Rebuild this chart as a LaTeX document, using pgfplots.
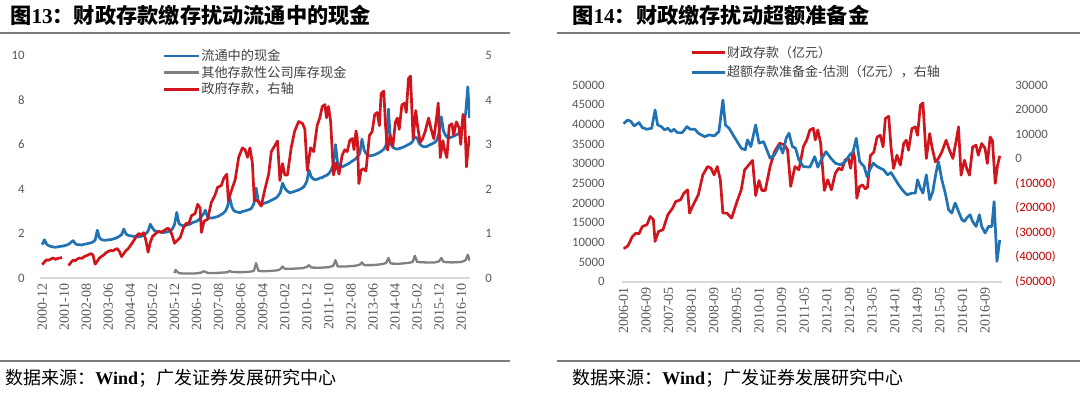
\documentclass[border=0pt]{standalone}
\usepackage{pgfplots}
\pgfplotsset{compat=1.18}
\usepackage{fontspec}
\setmainfont{Liberation Serif}
\newfontfamily\cjk{Noto Sans CJK SC}
\newfontfamily\numf{Carlito}
\definecolor{cblue}{RGB}{32,114,178}
\definecolor{cred}{RGB}{208,22,28}
\definecolor{cgray}{RGB}{128,128,128}
\definecolor{axgray}{RGB}{217,217,217}
\definecolor{tkgray}{RGB}{89,89,89}
\definecolor{negred}{RGB}{192,0,0}
\definecolor{rulegray}{RGB}{125,125,125}
\pgfplotsset{
  base/.style={scale only axis, /pgf/number format/assume math mode=true,
    tick style={draw=none}, major tick length=0pt, scaled y ticks=false,
    every axis plot/.append style={line width=1.35bp, line join=round, mark=none}},
  numlab/.style={font=\numf\fontsize{6.4bp}{7bp}\selectfont, text=tkgray, inner sep=0pt},
  datelab/.style={xticklabel style={font=\fontsize{7bp}{8bp}\selectfont, text=tkgray, rotate=90, anchor=east, inner sep=2.5bp}},
  limg/.style={legend image code/.code={\draw[##1, line width=1.3bp] (0bp,0bp) -- (#1,0bp);}},
}
\begin{document}
\begin{tikzpicture}[x=1bp,y=1bp]
\useasboundingbox (0,0) rectangle (540,199);
% ---------- titles, rules, sources
\node[anchor=west, inner sep=0pt] at (5,191.5) {\fontsize{10.6bp}{12bp}\selectfont\bfseries{\cjk 图}13{\cjk ：财政存款缴存扰动流通中的现金}};
\node[anchor=west, inner sep=0pt] at (286,191.5) {\fontsize{10.6bp}{12bp}\selectfont\bfseries{\cjk 图}14{\cjk ：财政缴存扰动超额准备金}};
\draw[rulegray, line width=1bp] (0,182.5) -- (255,182.5);
\draw[rulegray, line width=1bp] (278.5,182.5) -- (540,182.5);
\draw[rulegray, line width=0.9bp] (0,18.5) -- (255,18.5);
\draw[rulegray, line width=0.9bp] (278.5,18.5) -- (540,18.5);
\node[anchor=west, inner sep=0pt] at (2.5,10) {\fontsize{9bp}{11bp}\selectfont{\cjk 数据来源：}\textbf{Wind}{\cjk ；广发证券发展研究中心}};
\node[anchor=west, inner sep=0pt] at (286,10) {\fontsize{9bp}{11bp}\selectfont{\cjk 数据来源：}\textbf{Wind}{\cjk ；广发证券发展研究中心}};

% ---------- LEFT PANEL, left axis
\begin{axis}[base, at={(20bp,60bp)}, anchor=south west, width=215bp, height=111.15bp,
  xmin=-1, xmax=194, ymin=0, ymax=10,
  axis lines*=left, axis line style={-}, y axis line style={draw=none},
  x axis line style={axgray, line width=1bp},
  ytick={0,2,4,6,8,10}, yticklabel style={numlab, anchor=east, xshift=-7.5bp},
  xtick={0,10,...,190},
  xticklabels={2000-12,2001-10,2002-08,2003-06,2004-04,2005-02,2005-12,2006-10,2007-08,2008-06,2009-04,2010-02,2010-12,2011-10,2012-08,2013-06,2014-04,2015-02,2015-12,2016-10},
  datelab, limg=17.5bp, legend cell align=left,
  legend style={at={(axis description cs:0.284,1.039)}, anchor=north west, draw=none, fill=none,
    inner sep=0pt, font=\cjk\fontsize{6.6bp}{7bp}\selectfont, text=black!75, row sep=0bp,
    nodes={inner sep=0.6bp, text height=5.8bp, text depth=1.4bp}},
]
\addplot[cblue] coordinates {
(0,1.50) (1,1.72) (2,1.52) (3,1.45) (4,1.42) (5,1.40) (6,1.38) (7,1.40) (8,1.42) (9,1.43) (10,1.45) (11,1.48) (12,1.52) (13,1.60) (14,1.68) (15,1.55) (16,1.50) (17,1.50) (18,1.48) (19,1.52) (20,1.53) (21,1.56) (22,1.58) (23,1.62) (24,1.70) (25,2.15) (26,1.80) (27,1.72) (28,1.70) (29,1.70) (30,1.72) (31,1.72) (32,1.75) (33,1.78) (34,1.82) (35,1.88) (36,1.95) (37,2.20) (38,1.98) (39,1.92) (40,1.90) (41,1.88) (42,1.88) (43,1.86) (44,1.85) (45,1.88) (46,1.92) (47,2.00) (48,2.10) (49,2.42) (50,2.25) (51,2.12) (52,2.10) (53,2.08) (54,2.05) (55,2.05) (56,2.06) (57,2.08) (58,2.12) (59,2.20) (60,2.40) (61,2.95) (62,2.45) (63,2.38) (64,2.35) (65,2.36) (66,2.40) (67,2.42) (68,2.48) (69,2.52) (70,2.55) (71,2.62) (72,2.75) (73,2.85) (74,3.05) (75,2.75) (76,2.70) (77,2.70) (78,2.72) (79,2.75) (80,2.78) (81,2.85) (82,2.90) (83,3.00) (84,3.20) (85,3.65) (86,3.20) (87,3.02) (88,2.98) (89,2.95) (90,2.95) (91,3.00) (92,3.02) (93,3.05) (94,3.08) (95,3.15) (96,3.35) (97,4.05) (98,3.45) (99,3.35) (100,3.33) (101,3.38) (102,3.40) (103,3.45) (104,3.50) (105,3.55) (106,3.60) (107,3.70) (108,3.85) (109,4.27) (110,4.05) (111,3.92) (112,3.85) (113,3.85) (114,3.88) (115,3.92) (116,3.95) (117,4.00) (118,4.05) (119,4.15) (120,4.35) (121,4.85) (122,4.55) (123,4.45) (124,4.42) (125,4.45) (126,4.50) (127,4.52) (128,4.58) (129,4.62) (130,4.70) (131,4.85) (132,5.10) (133,6.00) (134,5.15) (135,5.02) (136,5.00) (137,5.05) (138,5.10) (139,5.15) (140,5.22) (141,5.28) (142,5.35) (143,5.45) (144,5.60) (145,6.25) (146,5.75) (147,5.58) (148,5.50) (149,5.50) (150,5.52) (151,5.55) (152,5.60) (153,5.65) (154,5.72) (155,5.80) (156,6.00) (157,7.60) (158,6.05) (159,5.88) (160,5.82) (161,5.80) (162,5.82) (163,5.86) (164,5.90) (165,5.95) (166,6.00) (167,6.05) (168,6.15) (169,6.35) (170,6.30) (171,6.05) (172,5.95) (173,5.90) (174,5.90) (175,5.95) (176,6.00) (177,6.05) (178,6.10) (179,6.20) (180,6.55) (181,7.25) (182,6.60) (183,6.40) (184,6.30) (185,6.32) (186,6.35) (187,6.40) (188,6.45) (189,6.50) (190,6.60) (191,6.80) (192,7.40) (193,8.60) (193.8,7.20)
};
\addlegendentry{流通中的现金}
\addplot[cgray, line width=1.15bp] coordinates {
(60,0.22) (60.5,0.37) (61,0.30) (62,0.22) (64,0.20) (66,0.20) (68,0.20) (70,0.21) (72,0.24) (73,0.30) (74,0.28) (75,0.23) (78,0.22) (81,0.24) (84,0.26) (85,0.32) (86,0.27) (90,0.26) (94,0.28) (96,0.32) (97,0.67) (98,0.33) (100,0.30) (104,0.32) (107,0.35) (108,0.40) (109,0.52) (110,0.42) (114,0.42) (118,0.44) (120,0.50) (121,0.58) (122,0.47) (126,0.46) (130,0.49) (132,0.55) (133,0.80) (134,0.52) (138,0.52) (142,0.55) (144,0.60) (145,0.70) (146,0.58) (150,0.58) (154,0.62) (156,0.68) (157,0.90) (158,0.65) (162,0.64) (166,0.68) (168,0.72) (169,1.00) (170,0.72) (174,0.70) (178,0.70) (180,0.75) (181,0.90) (182,0.72) (186,0.70) (190,0.72) (192,0.80) (193,1.05) (193.8,0.78)
};
\addlegendentry{其他存款性公司库存现金}
\addlegendimage{cred}
\addlegendentry{政府存款，右轴}
\end{axis}

% ---------- LEFT PANEL, right axis
\begin{axis}[base, at={(20bp,60bp)}, anchor=south west, width=215bp, height=111.15bp,
  xmin=-1, xmax=194, ymin=0, ymax=5, xtick=\empty,
  axis x line=none, axis y line*=right, axis line style={-}, y axis line style={draw=none},
  ytick={0,1,2,3,4,5}, yticklabel style={numlab, anchor=west, xshift=7.5bp},
]
\addplot[cred] coordinates {
(0,0.30) (1,0.36) (2,0.41) (3,0.40) (4,0.43) (5,0.45) (6,0.42) (7,0.44) (8,0.45) (9,0.46)
};
\addplot[cred] coordinates {
(12,0.28) (13,0.35) (14,0.40) (15,0.39) (16,0.43) (17,0.45) (18,0.44) (19,0.48) (20,0.50) (21,0.52) (22,0.55) (23,0.52) (24,0.31) (25,0.38) (26,0.45) (27,0.49) (28,0.52) (29,0.57) (30,0.60) (31,0.62) (32,0.61) (33,0.64) (34,0.66) (35,0.60) (36,0.48) (37,0.55) (38,0.62) (39,0.66) (40,0.73) (41,0.80) (42,0.88) (43,0.96) (44,1.00) (45,0.97) (46,1.02) (47,0.85) (48,0.58) (49,0.80) (50,0.93) (51,0.98) (52,1.02) (53,1.05) (54,1.03) (55,1.06) (56,1.09) (57,1.12) (58,1.08) (59,0.95) (60,0.78)
(61.5,0.855) (62.6,0.914) (64.2,1.15) (65.4,1.235) (66.5,1.218) (67.7,1.404) (69.3,1.447) (70.5,1.658) (71.6,1.574) (72.2,1.024) (73.4,1.278) (75.0,1.32) (76.7,1.70) (78.4,1.87) (79.5,2.038) (81.2,2.08) (82.4,2.25) (83.7,2.335) (84.4,1.743) (85.7,1.953) (87.5,2.208) (89.1,2.715) (90.8,2.927) (92.0,2.885) (93.1,2.715) (94.2,2.927) (95.3,2.589) (96.2,1.743) (97.6,1.743) (99.3,1.616) (101.0,1.997) (102.7,2.335) (103.9,2.843) (104.9,2.927) (106.7,3.083) (107.8,2.19) (109.0,2.572) (110.0,2.318) (111.2,2.318) (112.9,2.927) (114.5,3.308) (116.3,3.52) (118.0,3.478) (119.1,3.35) (120.2,2.42) (121.7,2.927) (123.1,2.843) (124.7,3.435) (125.9,3.604) (127.0,3.858) (128.2,3.90) (128.9,3.604) (129.8,3.858) (130.8,3.52) (132.1,2.318) (133.3,2.589) (134.6,2.335) (136.0,2.758) (137.2,2.885) (138.3,2.843) (139.5,3.096) (140.6,3.138) (141.4,2.885) (142.3,3.308) (142.9,3.138) (143.6,2.122) (144.6,2.42) (145.6,2.462) (146.8,2.403) (148.4,3.207) (149.6,3.29) (150.8,3.68) (151.9,3.723) (152.9,3.426) (153.7,4.147) (154.9,4.205) (155.7,3.426) (156.6,2.878) (157.8,3.216) (159.0,2.962) (160.2,3.513) (161.1,3.597) (161.9,3.343) (163.1,3.893) (164.3,3.934) (165.1,3.723) (166.1,4.485) (167.0,4.543) (168.2,3.132) (169.4,3.766) (170.2,3.426) (171.4,3.046) (172.5,3.132) (173.7,3.299) (175.2,3.597) (176.4,3.343) (177.6,3.132) (178.8,3.597) (179.6,3.934) (180.5,2.708) (181.7,3.089) (182.5,2.878) (183.5,2.708) (184.6,3.426) (185.8,3.469) (186.6,3.216) (187.8,3.513) (189.0,3.386) (189.8,3.005) (190.8,3.68) (191.6,3.58) (192.4,2.50) (193.2,2.95) (193.8,3.20)
};
\end{axis}

% ---------- RIGHT PANEL, left axis (财政存款)
\begin{axis}[base, at={(311bp,58.15bp)}, anchor=south west, width=190bp, height=98.35bp,
  xmin=-0.5, xmax=134, ymin=0, ymax=50000,
  axis lines*=left, axis line style={-}, y axis line style={draw=none},
  x axis line style={axgray, line width=1bp},
  ytick={0,5000,10000,15000,20000,25000,30000,35000,40000,45000,50000},
  yticklabels={0,5000,10000,15000,20000,25000,30000,35000,40000,45000,50000},
  yticklabel style={numlab, anchor=east, xshift=-8.5bp},
  xtick={0,8,...,128},
  xticklabels={2006-01,2006-09,2007-05,2008-01,2008-09,2009-05,2010-01,2010-09,2011-05,2012-01,2012-09,2013-05,2014-01,2014-09,2015-05,2016-01,2016-09},
  datelab, limg=16.5bp, legend cell align=left,
  legend style={at={(axis description cs:0.179,1.2085)}, anchor=north west, draw=none, fill=none,
    inner sep=0pt, font=\cjk\fontsize{6.5bp}{7bp}\selectfont, text=black!75, row sep=1.5bp,
    nodes={inner sep=0.6bp, text height=5.8bp, text depth=1.4bp}},
]
\addplot[cred] coordinates {
(0,8500) (0.45,8550) (1.6,9140) (3.2,11500) (4.4,12350) (5.5,12180) (6.7,14040) (8.3,14470) (9.5,16580) (10.6,15740) (11.2,10240) (12.4,12780) (14,13200) (15.7,17000) (17.4,18700) (18.5,20380) (20.2,20800) (21.4,22500) (22.7,23350) (23.4,17430) (24.7,19530) (26.5,22080) (28.1,27150) (29.8,29270) (31,28850) (32.1,27150) (33.2,29270) (34.3,25890) (35.2,17430) (36.6,17430) (38.3,16160) (40,19970) (41.7,23350) (42.9,28430) (43.9,29270) (45.7,30830) (46.8,21900) (48,25720) (49,23180) (50.2,23180) (51.9,29270) (53.5,33080) (55.3,35200) (57,34780) (58.1,33500) (59.2,24200) (60.7,29270) (62.1,28430) (63.7,34350) (64.9,36040) (66,38580) (67.2,39000) (67.9,36040) (68.8,38580) (69.8,35200) (71.1,23180) (72.3,25890) (73.6,23350) (75,27580) (76.2,28850) (77.3,28430) (78.5,30960) (79.6,31380) (80.4,28850) (81.3,33080) (81.9,31380) (82.6,21220) (83.6,24200) (84.6,24620) (85.6,23600) (86.4,24030) (87.4,32070) (88.6,32900) (89.8,36800) (90.9,37230) (91.9,34260) (92.7,41470) (93.9,42050) (94.7,34260) (95.6,28780) (96.8,32160) (98,29620) (99.2,35130) (100.1,35970) (100.9,33430) (102.1,38930) (103.3,39340) (104.1,37230) (105.1,44850) (106,45430) (107.2,31320) (108.4,37660) (109.2,34260) (110.4,30460) (111.5,31320) (112.7,32990) (114.2,35970) (115.4,33430) (116.6,31320) (117.8,35970) (118.6,39340) (119.5,27080) (120.7,30890) (121.5,28780) (122.5,27080) (123.6,34260) (124.8,34690) (125.6,32160) (126.8,35130) (128,33860) (128.8,30050) (129.8,36800) (130.6,35800) (131.6,25000) (132.4,29500) (133.2,32000)
};
\addlegendentry{财政存款（亿元）}
\addlegendimage{cblue}
\addlegendentry{超额存款准备金-估测（亿元），右轴}
\end{axis}

% ---------- RIGHT PANEL, right axis (超额准备金)
\begin{axis}[base, at={(311bp,58.15bp)}, anchor=south west, width=190bp, height=98.35bp,
  xmin=-0.5, xmax=134, ymin=-50000, ymax=30000, xtick=\empty,
  axis x line=none, axis y line*=right, axis line style={-}, y axis line style={draw=none},
  ytick={-50000,-40000,-30000,-20000,-10000,0,10000,20000,30000},
  yticklabels={\textcolor{negred}{(50000)},\textcolor{negred}{(40000)},\textcolor{negred}{(30000)},\textcolor{negred}{(20000)},\textcolor{negred}{(10000)},0,10000,20000,30000},
  yticklabel style={numlab, anchor=west, xshift=6.5bp},
]
\addplot[cblue] coordinates {
(0,14300) (0.45,14700) (1.6,15790) (2.7,15100) (3.8,13350) (5.5,14700) (6.7,12670) (8.3,12010) (10,12420) (11.2,19850) (12.1,13760) (13.4,13080) (14.6,11730) (15.7,12420) (16.9,11040) (17.9,12010) (19.1,10640) (20.8,10640) (22.5,13080) (23.6,12000) (25.3,12010) (26.5,10390) (28.7,9010) (30.4,9700) (32.1,9290) (33.8,11040) (35.2,23910) (36.1,13760) (37.4,12420) (38.8,9700) (40.6,6330) (41.7,4300) (43.1,3610) (43.9,7670) (45.1,4950) (46.8,13760) (48,6330) (49.6,6980) (51.9,240) (53.5,1580) (55.3,5640) (56.4,2270) (57.6,8360) (58.6,10390) (59.8,4950) (60.9,4300) (62.1,-450) (63.7,-3170) (66,-3410) (67.7,890) (68.8,-3410) (70,-450) (71.7,2920) (73.4,240) (75,-1790) (76.8,-2480) (78.5,-1140) (80.1,1580) (81.3,2920) (82.4,8360) (83.6,-1140) (85.2,-3170) (86.2,-7230) (87.2,-4510) (88.4,-1790) (89.8,-3170) (90.9,-3820) (92.1,-4510) (93.5,-6540) (94.7,-5610) (95.6,-7230) (97.4,-10600) (99.2,-13320) (100.4,-14660) (102.1,-13970) (103.3,-13970) (104.1,-8570) (105.1,-11940) (106,-13970) (107.2,-6540) (108.4,-16690) (109.5,-13320) (110.6,-5850) (111.5,-1140) (112.7,-8570) (113.9,-13970) (115.1,-20750) (116.2,-22090) (117.4,-18030) (118.6,-21440) (119.8,-24810) (120.7,-25500) (121.5,-24120) (122.7,-22780) (123.6,-25500) (124.8,-27530) (126,-22780) (126.8,-27530) (128,-30210) (129.2,-27530) (130.4,-27530) (131.2,-17400) (132.2,-41700) (133.2,-33000)
};
\end{axis}
\end{tikzpicture}
\end{document}
